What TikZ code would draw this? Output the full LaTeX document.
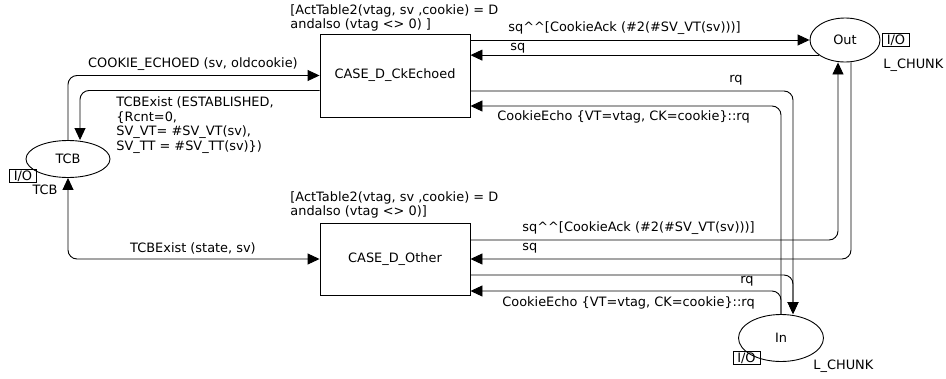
\documentclass[tikz,border=0pt]{standalone}
\usepackage{fontspec}
\setmainfont{DejaVu Sans}
\usetikzlibrary{arrows.meta,shapes}

\begin{document}
\begin{tikzpicture}[x=1pt,y=-1pt,>={Triangle[length=12pt,width=11pt]},line width=0.9pt,
    font=\fontsize{12.9}{14.7}\selectfont]
  \tikzset{place/.style={ellipse,draw,inner sep=0pt},
           trans/.style={rectangle,draw,inner sep=0pt,minimum width=150pt},
           iobox/.style={draw,inner sep=0pt,minimum width=27pt,minimum height=12.5pt,line width=0.8pt,font=\fontsize{13}{12}\selectfont},
           arc/.style={rounded corners=9pt},
           lbl/.style={inner sep=0pt,align=left}}
  \useasboundingbox (0,0) rectangle (946,378);
  % places
  \node[place,minimum width=84pt,minimum height=37pt] (tcb) at (68,159) {TCB};
  \node[place,minimum width=70pt,minimum height=44pt] (out) at (845,40) {Out};
  \node[place,minimum width=85pt,minimum height=47pt] (in)  at (781,338) {In};
  \node[iobox] (tcbio) at (23,176) {I/O};
  \node[lbl]   (tcbty) at (45,190) {TCB};
  \node[iobox] (outio) at (896,40) {I/O};
  \node[lbl,anchor=west] (outty) at (883,65) {L\_CHUNK};
  \node[iobox] (inio)  at (746.5,358) {I/O};
  \node[lbl,anchor=west] (inty) at (813,366) {L\_CHUNK};
  % transitions
  \node[trans,minimum height=83pt] (ck)  at (395,75.5) {CASE\_D\_CkEchoed};
  \node[trans,minimum height=72pt] (oth) at (395,259) {CASE\_D\_Other};
  \node[lbl,anchor=west] (ckg)  at (290,18) {[ActTable2(vtag, sv ,cookie) = D\\andalso (vtag <> 0) ]};
  \node[lbl,anchor=west] (othg) at (290,205) {[ActTable2(vtag, sv ,cookie) = D\\andalso (vtag <> 0)]};
  % arcs of CASE_D_CkEchoed
  \draw[arc,->] (tcb.north) |- (ck.west);
  \draw[arc,->] ([yshift=-15pt]ck.west) -| ([xshift=12pt]tcb.north);
  \draw[arc,->] (ck.east |- out.west) -- (out.west);
  \draw[arc,->] (out.210) -- (out.210 -| ck.east);
  \draw[arc,->] ([yshift=-15.5pt]ck.east) -| ([xshift=12pt]in.north);
  \draw[arc,->] (in.north) |- ([yshift=-30.5pt]ck.east);
  % arcs of CASE_D_Other
  \draw[arc,<->] (tcb.south) |- (oth.west);
  \draw[arc,->] ([yshift=19pt]oth.east) -| ([xshift=-7pt]out.south);
  \draw[arc,->] ([xshift=6pt]out.south) |- (oth.east);
  \draw[arc,->] ([yshift=-16pt]oth.east) -| ([xshift=12pt]in.north);
  \draw[arc,->] (in.north) |- ([yshift=-32pt]oth.east);
  % inscriptions
  \node[lbl] (a1) at (193,64) {COOKIE\_ECHOED (sv, oldcookie)};
  \node[lbl,anchor=west] (a2) at (116,125) {TCBExist (ESTABLISHED,\\\{Rcnt=0,\\SV\_VT= \#SV\_VT(sv),\\SV\_TT = \#SV\_TT(sv)\})};
  \node[lbl,anchor=west] (a3) at (508,28) {sq\textasciicircum\textasciicircum[CookieAck (\#2(\#SV\_VT(sv)))]};
  \node[lbl,anchor=west] (a4) at (510,48) {sq};
  \node[lbl] (a5) at (736,80) {rq};
  \node[lbl,anchor=west] (a6) at (497,117) {CookieEcho \{VT=vtag, CK=cookie\}::rq};
  \node[lbl] (b1) at (193,248) {TCBExist (state, sv)};
  \node[lbl,anchor=west] (b2) at (522,228) {sq\textasciicircum\textasciicircum[CookieAck (\#2(\#SV\_VT(sv)))]};
  \node[lbl,anchor=west] (b3) at (522,248) {sq};
  \node[lbl] (b4) at (747,281) {rq};
  \node[lbl,anchor=west] (b5) at (502,303) {CookieEcho \{VT=vtag, CK=cookie\}::rq};
\end{tikzpicture}
\end{document}
